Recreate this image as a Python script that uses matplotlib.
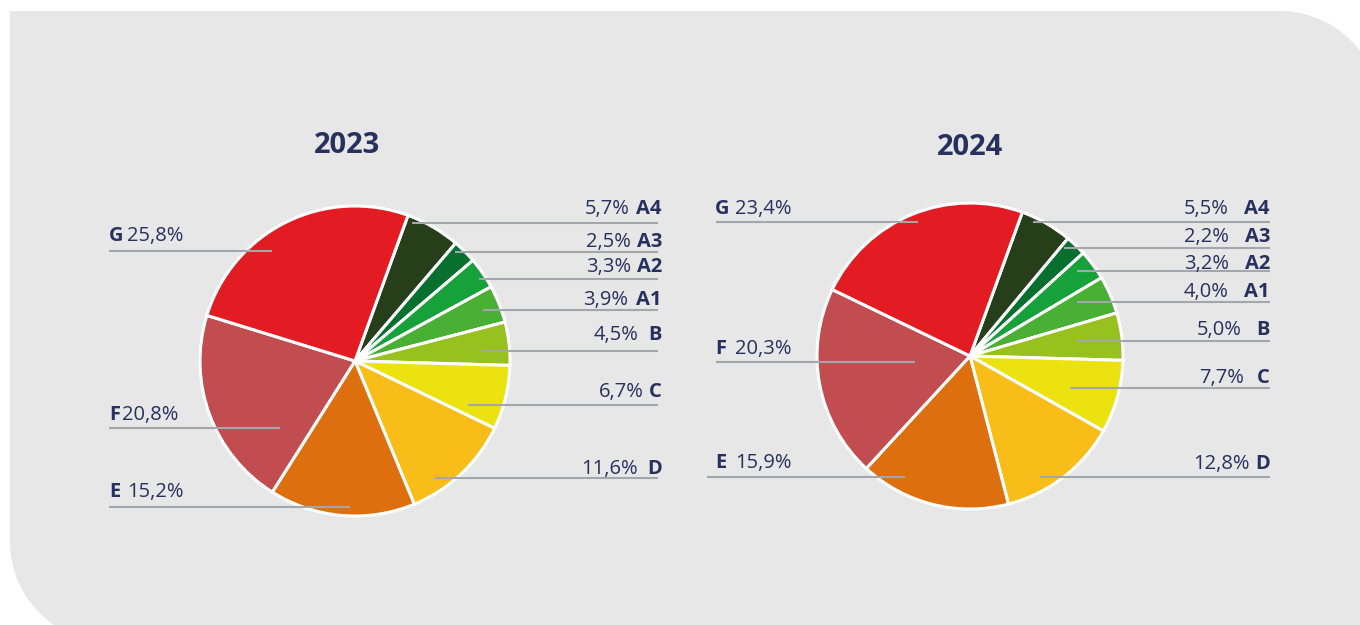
import numpy as np
import matplotlib
matplotlib.use('Agg')
import matplotlib.pyplot as plt
from matplotlib.path import Path
from matplotlib.patches import PathPatch

# ---------------- data ----------------
classes = ['A4', 'A3', 'A2', 'A1', 'B', 'C', 'D', 'E', 'F', 'G']
values_2023 = [5.7, 2.5, 3.3, 3.9, 4.5, 6.7, 11.6, 15.2, 20.8, 25.8]
values_2024 = [5.5, 2.2, 3.2, 4.0, 5.0, 7.7, 12.8, 15.9, 20.3, 23.4]
years = ['2023', '2024']
colors = ['#263f1a', '#07702f', '#17a13a', '#4aaf35', '#96c11f',
          '#ebe20f', '#f8bd19', '#de6f0f', '#c24d50', '#e31b23']

# ---------------- layout (pixel coords) ----------------
layouts = [
    dict(center=(355, 361), radius=155, title=(347, 153),
         letter_right=662, line_right=658,
         r_line_y=[223, 252, 279, 310, 351, 405, 478],
         r_line_x0=[412, 455, 479, 483, 481, 468, 435],
         r_text_y=[207, 240, 265, 298, 333, 390, 467],
         r_pct_right=[630, 631, 631, 628, 639, 644, 638],
         l_line_y=[251, 428, 507], l_line_x0=[109, 109, 109],
         l_line_x1=[272, 280, 350], l_text_y=[234, 413, 490],
         l_letter_x=109, l_pct_x=[127, 122, 127]),
    dict(center=(970, 356), radius=153, title=(970, 155),
         letter_right=1270, line_right=1270,
         r_line_y=[222, 248, 271, 302, 341, 388, 477],
         r_line_x0=[1033, 1064, 1077, 1077, 1077, 1070, 1040],
         r_text_y=[207, 235, 262, 290, 328, 376, 462],
         r_pct_right=[1229, 1229, 1229, 1229, 1242, 1244, 1250],
         l_line_y=[222, 362, 477], l_line_x0=[716, 716, 707],
         l_line_x1=[918, 915, 905], l_text_y=[207, 347, 461],
         l_letter_x=715, l_pct_x=[735, 735, 735]),
]

TXT = '#27315f'
LINE = '#a3a6ad'
BG = '#e7e7e7'
FONT = 'Open Sans'
FS = 14.5
CAP_HALF = FS * 100 / 72 * 0.714 / 2

W, H = 1360, 625
fig = plt.figure(figsize=(W / 100, H / 100), dpi=100)
fig.patch.set_facecolor('white')
ax = fig.add_axes([0, 0, 1, 1])

# background panel with two rounded corners
L, T, R, B, rad = 10, 11, 1380, 642, 100
verts = [(L, T), (R - rad, T)]
a = np.linspace(-np.pi / 2, 0, 30)
verts += [(R - rad + rad * np.cos(t), T + rad + rad * np.sin(t)) for t in a]
verts += [(R, B), (L + rad, B)]
a = np.linspace(np.pi / 2, np.pi, 30)
verts += [(L + rad + rad * np.cos(t), B - rad + rad * np.sin(t)) for t in a]
verts += [(L, T)]
codes = [Path.MOVETO] + [Path.LINETO] * (len(verts) - 2) + [Path.CLOSEPOLY]
ax.add_patch(PathPatch(Path(verts, codes), facecolor=BG, edgecolor='none', zorder=0))


def fmt(v):
    return f"{v:.1f}".replace('.', ',') + '%'


for vals, year, lay in zip([values_2023, values_2024], years, layouts):
    ax.pie(vals, colors=colors, startangle=-70, counterclock=True,
           center=lay['center'], radius=lay['radius'], frame=True,
           wedgeprops=dict(edgecolor='white', linewidth=2.2, zorder=2))
    ax.text(lay['title'][0], lay['title'][1], year, ha='center', va='baseline',
            fontsize=21, fontweight='bold', color=TXT, family=FONT, zorder=5)
    # right labels: A4..D
    for i in range(7):
        y = lay['r_line_y'][i]
        ax.plot([lay['r_line_x0'][i], lay['line_right']], [y, y], color=LINE,
                lw=1.5, solid_capstyle='butt', zorder=4)
        ty = lay['r_text_y'][i] + CAP_HALF
        ax.text(lay['letter_right'], ty, classes[i], ha='right', va='baseline',
                fontsize=FS, fontweight='bold', color=TXT, family=FONT, zorder=5)
        ax.text(lay['r_pct_right'][i], ty, fmt(vals[i]), ha='right', va='baseline',
                fontsize=FS, color=TXT, family=FONT, zorder=5)
    # left labels: G, F, E
    for j, idx in enumerate([9, 8, 7]):
        y = lay['l_line_y'][j]
        ax.plot([lay['l_line_x0'][j], lay['l_line_x1'][j]], [y, y], color=LINE,
                lw=1.5, solid_capstyle='butt', zorder=4)
        ty = lay['l_text_y'][j] + CAP_HALF
        ax.text(lay['l_letter_x'], ty, classes[idx], ha='left', va='baseline',
                fontsize=FS, fontweight='bold', color=TXT, family=FONT, zorder=5)
        ax.text(lay['l_pct_x'][j], ty, fmt(vals[idx]), ha='left', va='baseline',
                fontsize=FS, color=TXT, family=FONT, zorder=5)

ax.set_xlim(0, W)
ax.set_ylim(H, 0)
ax.set_aspect('auto')
ax.axis('off')

fig.savefig('out.png', dpi=100, facecolor='white')
